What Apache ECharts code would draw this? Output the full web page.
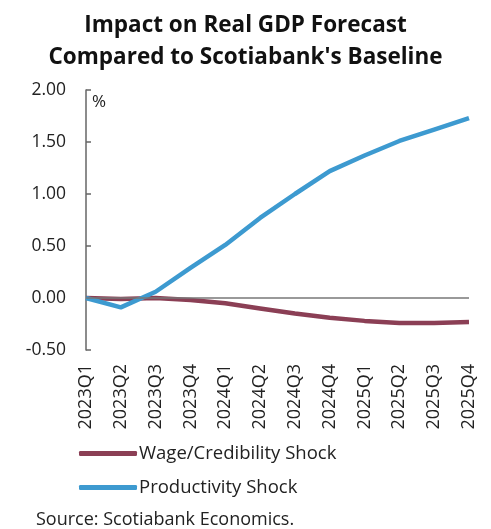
<!DOCTYPE html>
<html><head><meta charset="utf-8">
<script src="https://cdn.jsdelivr.net/npm/echarts@6/dist/echarts.min.js"></script>
<style>html,body{margin:0;padding:0;background:#fff}#c{width:491px;height:529px}</style>
</head><body><div id="c"></div>
<script>
const categories = ['2023Q1','2023Q2','2023Q3','2023Q4','2024Q1','2024Q2','2024Q3','2024Q4','2025Q1','2025Q2','2025Q3','2025Q4'];
const wageShock = [0.00,-0.01,0.00,-0.02,-0.05,-0.10,-0.15,-0.19,-0.22,-0.24,-0.24,-0.23];
const productivityShock = [0.00,-0.09,0.06,0.29,0.51,0.77,1.00,1.22,1.37,1.51,1.62,1.73];
const yTicks = [-0.5,0,0.5,1,1.5,2];

const FONT = 'Open Sans';
const chart = echarts.init(document.getElementById('c'), null, {renderer:'canvas'});
chart.setOption({
  animation:false,
  textStyle:{fontFamily:FONT},
  title:{
    text:"Impact on Real GDP Forecast\nCompared to Scotiabank's Baseline",
    left:'center', top:5,
    textStyle:{fontFamily:FONT,fontSize:22.5,fontWeight:'bold',color:'#111',lineHeight:31.5}
  },
  graphic:[
    {type:'text',left:92,top:94,style:{text:'%',font:'17px '+FONT,fill:'#222'}},
    {type:'text',left:36,top:511,style:{text:'Source: Scotiabank Economics.',font:'18px '+FONT,fill:'#222'}}
  ],
  legend:{
    orient:'vertical', left:74, top:439, itemGap:15,
    itemWidth:58, itemHeight:5, icon:'roundRect',
    textStyle:{fontFamily:FONT,fontSize:18.5,color:'#222',padding:[0,0,0,-3]},
    data:['Wage/Credibility Shock','Productivity Shock']
  },
  grid:{left:86,right:22,top:90,bottom:179,containLabel:false},
  xAxis:{
    type:'category', data:categories, boundaryGap:false,
    axisLine:{show:false,onZero:false}, axisTick:{show:false},
    axisLabel:{rotate:90,fontSize:18,color:'#222',fontFamily:FONT,margin:14}
  },
  yAxis:{
    type:'value', min:yTicks[0], max:yTicks[yTicks.length-1], interval:0.5,
    axisLine:{show:true,lineStyle:{color:'#666',width:1.5}},
    axisTick:{show:true,inside:true,length:5,lineStyle:{color:'#666',width:1.5}},
    splitLine:{show:false},
    axisLabel:{fontSize:17.5,color:'#222',fontFamily:FONT,margin:20,formatter:v=>v.toFixed(2)}
  },
  series:[
    {name:'Wage/Credibility Shock',type:'line',data:wageShock,symbol:'none',
     lineStyle:{color:'#8b3f55',width:4.5},itemStyle:{color:'#8b3f55'},z:3,
     markLine:{silent:true,symbol:'none',label:{show:false},
       lineStyle:{color:'#777',width:1.5,type:'solid'},data:[{yAxis:0}]}},
    {name:'Productivity Shock',type:'line',data:productivityShock,symbol:'none',
     lineStyle:{color:'#3d9ad0',width:4.5},itemStyle:{color:'#3d9ad0'},z:4}
  ]
});
</script></body></html>
